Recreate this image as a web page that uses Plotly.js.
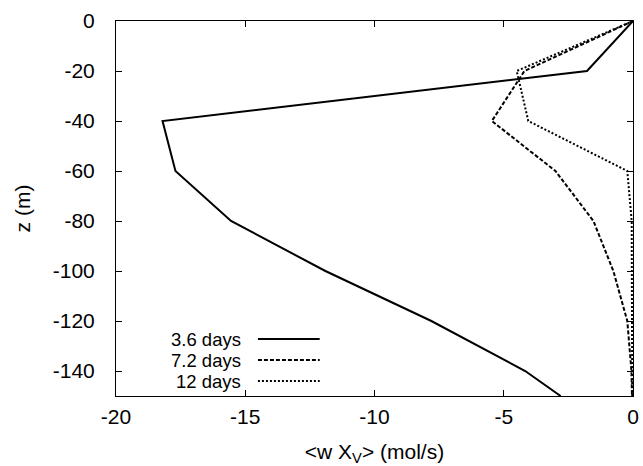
<!DOCTYPE html>
<html>
<head>
<meta charset="utf-8">
<script src="https://cdn.plot.ly/plotly-3.0.1.min.js"></script>
<style>
html,body{margin:0;padding:0;background:#fff;}
#chart{width:643px;height:466px;}
</style>
</head>
<body>
<div id="chart"></div>
<script>
var depths = [0, -20, -40, -60, -80, -100, -120, -140, -150];
var flux36 = [0, -1.78, -18.2, -17.7, -15.55, -11.9, -7.8, -4.17, -2.8];
var flux72 = [0, -4.2, -5.46, -3.0, -1.53, -0.76, -0.22, -0.06, -0.04];
var flux12 = [0, -4.5, -4.05, -0.22, -0.05, -0.04, -0.03, -0.03, -0.03];
var seriesNames = ['3.6 days', '7.2 days', '12 days'];
var xTicks = [-20, -15, -10, -5, 0];
var yTicks = [0, -20, -40, -60, -80, -100, -120, -140];

var dashes = ['solid', '4px,2px', '2px,2px'];
var widths = [2, 2, 2];
var allX = [flux36, flux72, flux12];

var traces = allX.map(function (xs, i) {
  return {
    x: xs, y: depths, type: 'scatter', mode: 'lines', name: seriesNames[i],
    line: {color: '#000', width: widths[i], dash: dashes[i]},
    showlegend: false, hoverinfo: 'skip'
  };
});

var fontFam = '"Liberation Sans", Arial, Helvetica, sans-serif';
var fs = 21;
var annotations = [];
var shapes = [];
var legY = [0.152, 0.096, 0.040];
seriesNames.forEach(function (nm, i) {
  annotations.push({
    xref: 'paper', yref: 'paper', x: 0.243, y: legY[i],
    xanchor: 'right', yanchor: 'middle', text: nm, showarrow: false,
    borderpad: 0,
    font: {family: fontFam, size: 18.5, color: '#000'}
  });
  shapes.push({
    type: 'line', xref: 'paper', yref: 'paper',
    x0: 0.2745, x1: 0.394, y0: legY[i], y1: legY[i],
    line: {color: '#000', width: widths[i], dash: dashes[i]}
  });
});

var axisCommon = {
  showline: true, linecolor: '#000', linewidth: 1, mirror: 'ticks',
  ticks: 'inside', ticklen: 6, tickcolor: '#000', tickwidth: 1,
  showgrid: false, zeroline: false,
  tickfont: {family: fontFam, size: fs, color: '#000'}
};

var layout = {
  width: 643, height: 466,
  margin: {l: 116, r: 10, t: 21, b: 70},
  paper_bgcolor: '#fff', plot_bgcolor: '#fff',
  font: {family: fontFam, color: '#000'},
  xaxis: Object.assign({}, axisCommon, {
    range: [-20, 0], tickvals: xTicks, ticktext: xTicks.map(String),
    ticklabelstandoff: 2,
    title: {text: '&lt;w X<sub>V</sub>&gt; (mol/s)', font: {family: fontFam, size: fs, color: '#000'}, standoff: 24}
  }),
  yaxis: Object.assign({}, axisCommon, {
    range: [-150, 0], tickvals: yTicks, ticktext: yTicks.map(String),
    ticklabelstandoff: 16,
    title: {text: 'z (m)', font: {family: fontFam, size: fs, color: '#000'}, standoff: 16}
  }),
  annotations: annotations,
  shapes: shapes,
  showlegend: false
};

Plotly.newPlot('chart', traces, layout, {displayModeBar: false, staticPlot: true});
</script>
</body>
</html>
